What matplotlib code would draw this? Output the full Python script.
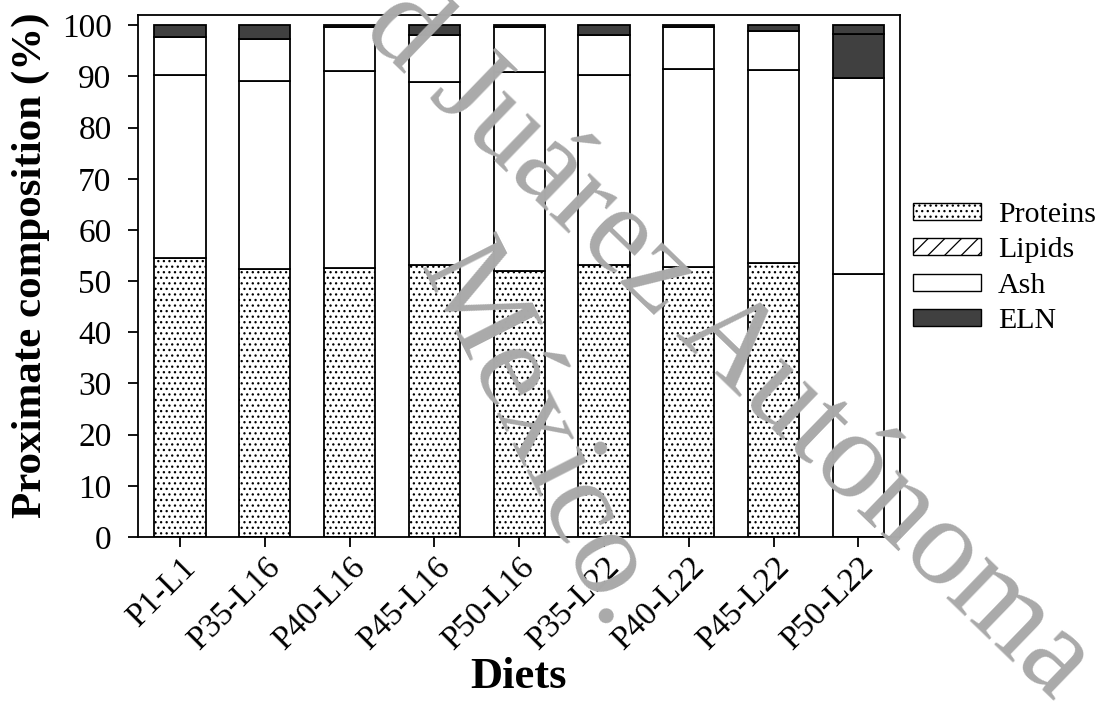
import numpy as np
import matplotlib
matplotlib.use('Agg')
import matplotlib.pyplot as plt
from matplotlib.patches import Patch

plt.rcParams['font.family'] = ['Liberation Serif', 'DejaVu Serif']
plt.rcParams['hatch.linewidth'] = 0.9

# diets and stacked composition (%)
diets = ['P1-L1', 'P35-L16', 'P40-L16', 'P45-L16', 'P50-L16',
         'P35-L22', 'P40-L22', 'P45-L22', 'P50-L22']
proteins = [54.5, 52.3, 52.5, 53.2, 52.0, 53.2, 52.7, 53.5, 51.4]
lipids = [35.7, 36.8, 38.6, 35.7, 38.8, 37.1, 38.8, 37.8, 38.3]
ash = [7.5, 8.2, 8.6, 9.2, 8.9, 7.7, 8.1, 7.6, 8.6]
eln = [2.3, 2.7, 0.3, 1.9, 0.3, 2.0, 0.4, 1.1, 1.7]

dark = '#404040'
# the last bar is drawn with different fills in the original figure
prot_hatch = ['...'] * 8 + ['']
ash_color = ['white'] * 8 + [dark]

fig = plt.figure(figsize=(10.97, 7.02), dpi=100)
ax = fig.add_axes([0.1258, 0.235, 0.6946, 0.7436])

x = np.arange(len(diets))
w = 0.605
lw = 1.3

b1 = ax.bar(x, proteins, w, color='white', edgecolor='black', linewidth=lw)
for bar, h in zip(b1, prot_hatch):
    bar.set_hatch(h)
bottom = np.array(proteins)
ax.bar(x, lipids, w, bottom=bottom, color='white', edgecolor='black', linewidth=lw)
bottom = bottom + np.array(lipids)
ax.bar(x, ash, w, bottom=bottom, color=ash_color, edgecolor='black', linewidth=lw)
bottom = bottom + np.array(ash)
ax.bar(x, eln, w, bottom=bottom, color=dark, edgecolor='black', linewidth=lw)

ax.set_xlim(-0.495, 8.49)
ax.set_ylim(0, 102)
ax.set_yticks(np.arange(0, 101, 10))
ax.set_xticks(x)
ax.set_xticklabels(diets, rotation=45, ha='right', rotation_mode='anchor')
ax.tick_params(axis='both', labelsize=24, direction='out', length=7, width=1.3)
ax.tick_params(axis='y', pad=12)
ax.tick_params(axis='x', pad=4)
for s in ax.spines.values():
    s.set_linewidth(1.3)

ax.set_ylabel('Proximate composition (%)', fontsize=31, fontweight='bold')
ax.yaxis.set_label_coords(-0.115, 0.52)
ax.set_xlabel('Diets', fontsize=32, fontweight='bold')
ax.xaxis.set_label_coords(0.5, -0.23)

handles = [Patch(facecolor='white', edgecolor='black', hatch='...', label='Proteins'),
           Patch(facecolor='white', edgecolor='black', hatch='//', label='Lipids'),
           Patch(facecolor='white', edgecolor='black', label='Ash'),
           Patch(facecolor=dark, edgecolor='black', label='ELN')]
fig.legend(handles=handles, loc='center left', bbox_to_anchor=(0.832, 0.618),
           frameon=False, fontsize=21.5, borderpad=0, borderaxespad=0,
           handlelength=2.3, handleheight=0.5, handletextpad=0.55, labelspacing=0.32)

# watermark
fig.text(0.328, 0.955, 'd Juárez Autónoma', fontsize=90, color='#aaaaaa',
         rotation=-44, rotation_mode='anchor', ha='left', va='baseline', zorder=10)
fig.text(0.381, 0.62, 'México.', fontsize=90, color='#aaaaaa',
         rotation=-63, rotation_mode='anchor', ha='left', va='baseline', zorder=10)

fig.savefig('out.png', dpi=100)
